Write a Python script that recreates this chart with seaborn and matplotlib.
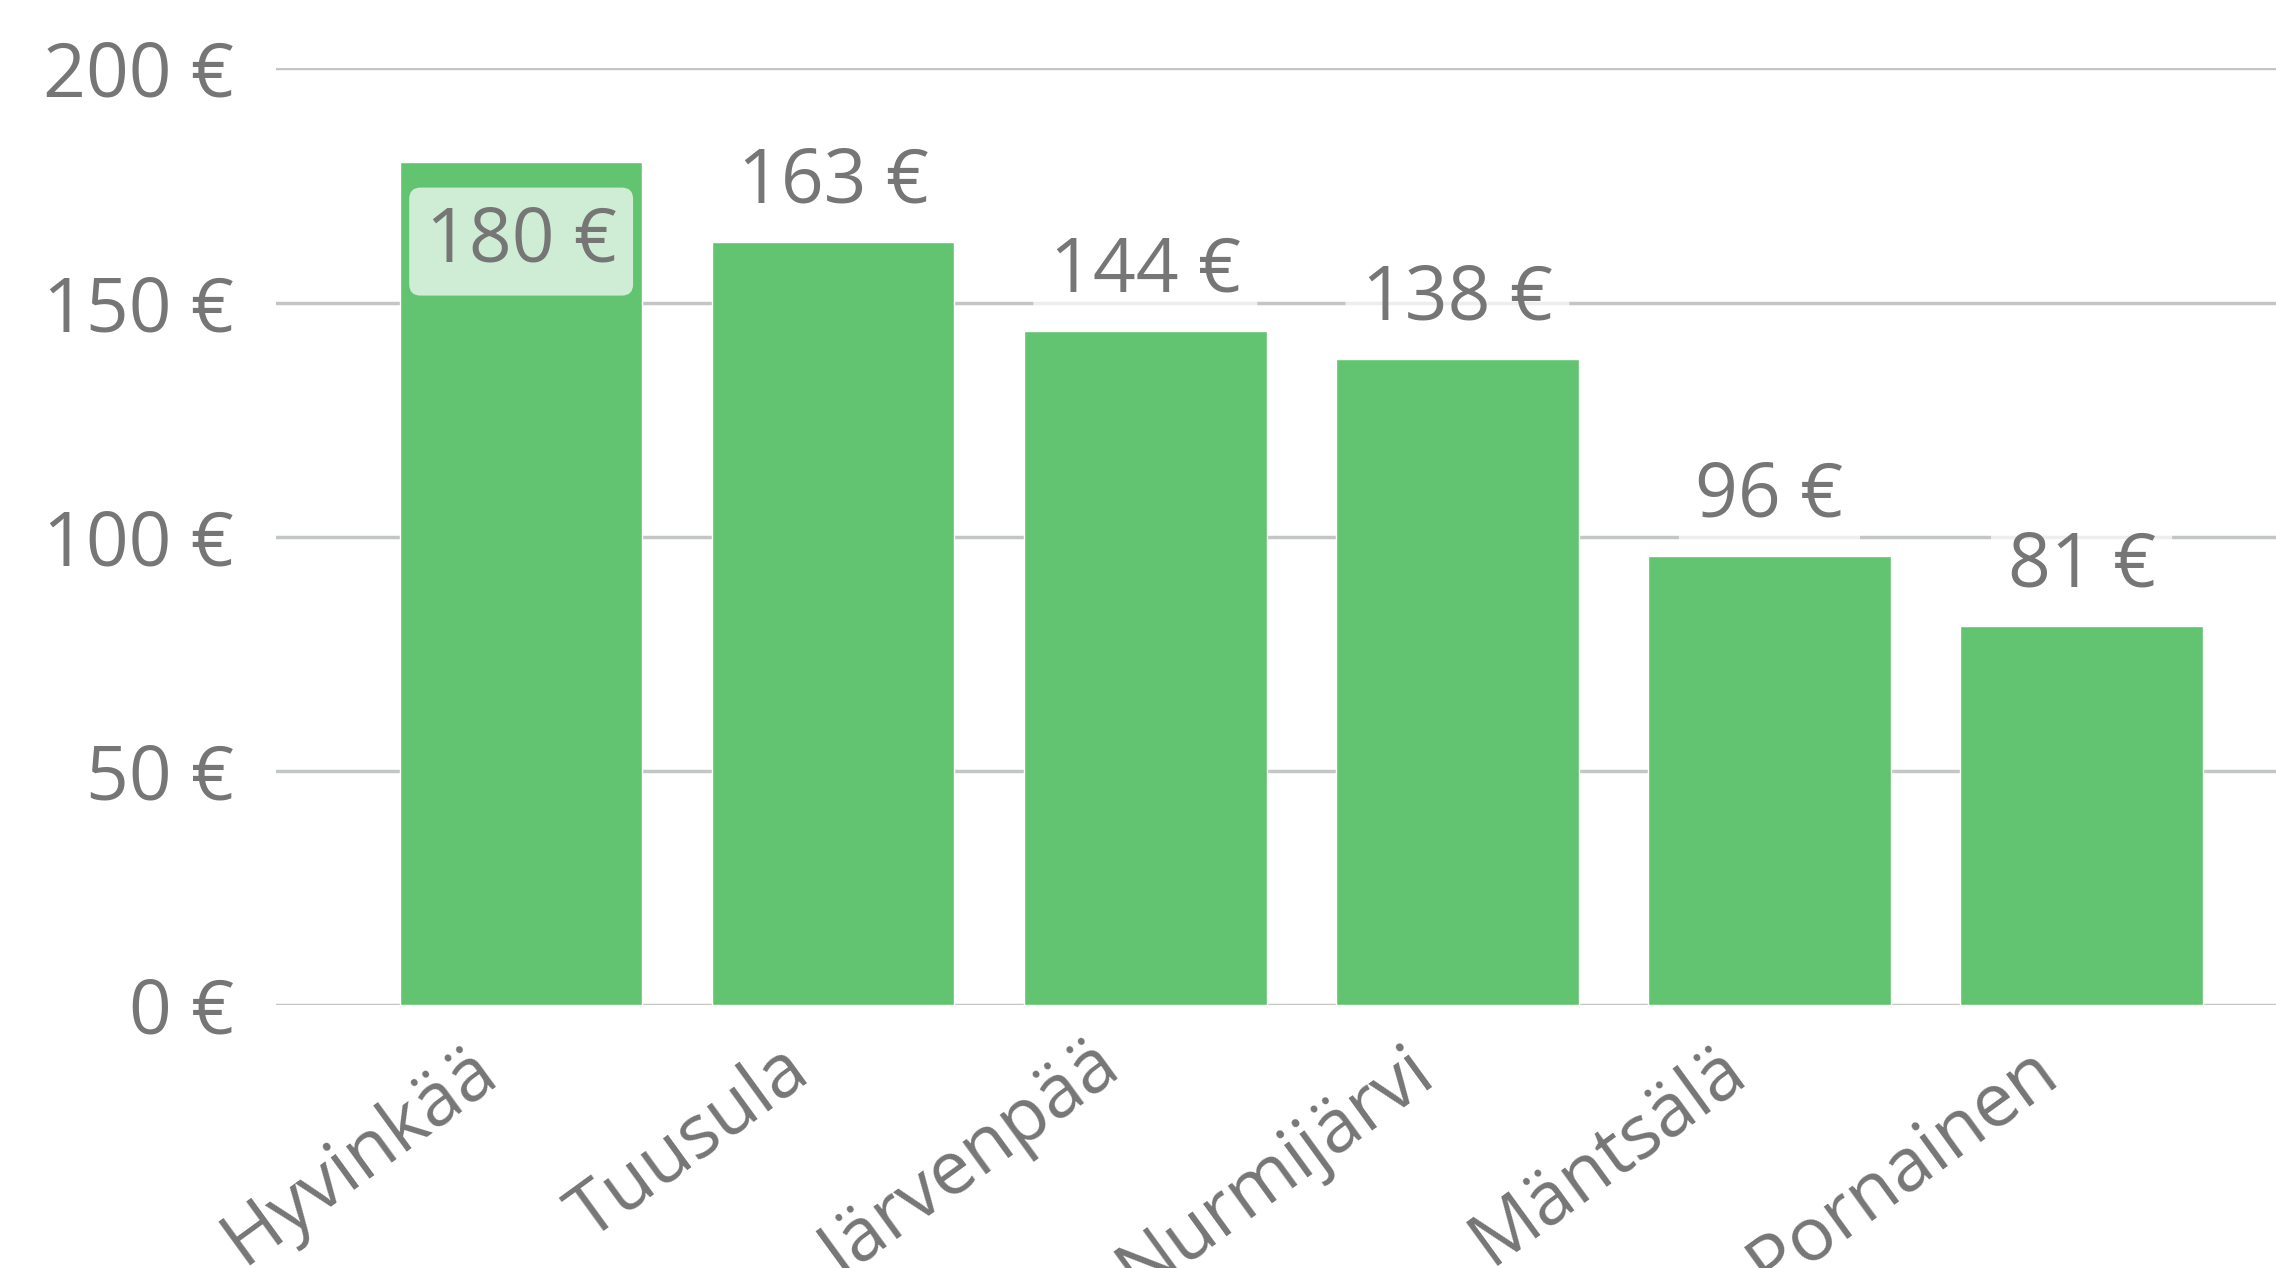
import matplotlib
matplotlib.use('Agg')
import matplotlib.pyplot as plt
import matplotlib.transforms as mtransforms
import seaborn as sns
import pandas as pd

# Data
kunnat = ['Hyvinkää', 'Tuusula', 'Järvenpää', 'Nurmijärvi', 'Mäntsälä', 'Pornainen']
arvot = [180, 163, 144, 138, 96, 81]
y_ticks = [0, 50, 100, 150, 200]

df = pd.DataFrame({'kunta': kunnat, 'arvo': arvot})

sns.set_style('white')
plt.rcParams['font.family'] = ['Open Sans', 'DejaVu Sans']

harmaa = '#767676'
vihrea = '#62c470'

fig = plt.figure(figsize=(22.76, 12.68), dpi=100)
ax = fig.add_axes([0.1212, 0.2071, 0.8788, 0.7391])

sns.barplot(data=df, x='kunta', y='arvo', color=vihrea, saturation=1,
            width=0.777, ax=ax, zorder=2)

ax.set_xlim(-0.786, 5.623)
ax.set_ylim(0, 200)
ax.set_yticks(y_ticks)
ax.set_yticklabels([f'{t} €' for t in y_ticks])
ax.grid(axis='y', color='#c3c7c3', linewidth=2.5, zorder=0)
ax.set_axisbelow(True)
for s in ax.spines.values():
    s.set_visible(False)
ax.set_xlabel('')
ax.set_ylabel('')

ax.tick_params(axis='y', length=0, pad=30, labelsize=54, labelcolor=harmaa)
ax.tick_params(axis='x', length=0, pad=19, labelsize=54, labelcolor=harmaa)
plt.setp(ax.get_xticklabels(), rotation=36, ha='right', va='top', rotation_mode='anchor')
siirto = mtransforms.ScaledTranslation(-0.54, 0, fig.dpi_scale_trans)
for lbl in ax.get_xticklabels():
    lbl.set_transform(lbl.get_transform() + siirto)

# Arvolaput
for i, v in enumerate(arvot):
    y = v + 12.5
    if y + 8 > 200:
        y = v - 17
    ax.text(i, y, f'{v} €', ha='center', va='center', fontsize=54, color=harmaa,
            zorder=3,
            bbox=dict(boxstyle='round,pad=0.22,rounding_size=0.15', facecolor='white',
                      edgecolor='none', alpha=0.7))

fig.savefig('out.png', dpi=100)
